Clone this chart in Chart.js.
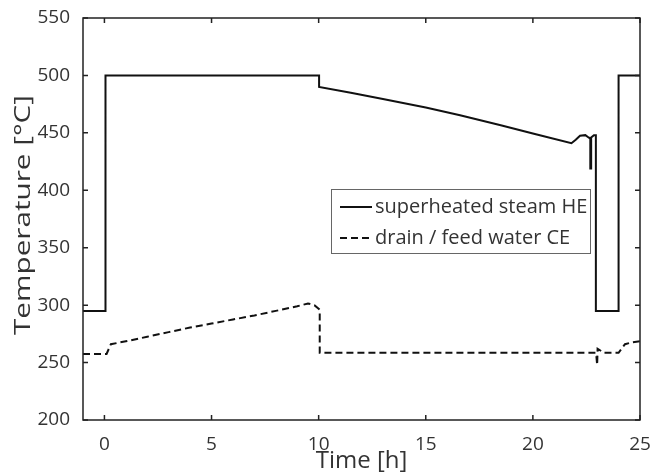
<!DOCTYPE html>
<html>
<head>
<meta charset="utf-8">
<script src="https://cdn.jsdelivr.net/npm/chart.js@4.4.1/dist/chart.umd.min.js"></script>
<style>
  html, body { margin: 0; padding: 0; background: #fff; }
  #wrap { width: 663px; height: 476px; }
</style>
</head>
<body>
<div id="wrap"><canvas id="canvas" width="663" height="476"></canvas></div>
<script>
// superheated steam HE (solid)
var steamTime = [-1, 0.05, 0.05, 10.02, 10.02, 11.5, 13, 15, 16.6, 18.5, 20, 21.8, 22.0, 22.2, 22.45, 22.6, 22.68, 22.68, 22.72, 22.72, 22.85, 22.94, 22.94, 24, 24, 25];
var steamTemp = [295, 295, 500, 500, 490, 485, 479.5, 472, 465.4, 456.7, 449.5, 441, 444, 447.5, 448, 446, 445, 419, 419, 446, 448, 448, 295, 295, 500, 500];

// drain / feed water CE (dashed)
var drainTime = [-1, 0.1, 0.3, 1, 2, 3, 4, 5, 6, 7, 8, 9, 9.5, 9.8, 10.05, 10.05, 22.95, 23.0, 23.02, 23.15, 23.3, 24.0, 24.3, 24.6, 25];
var drainTemp = [257.5, 257.5, 266, 268.5, 272.5, 276.5, 280.5, 284, 287.5, 291, 295, 299, 301.5, 300, 296, 258.5, 258.5, 248, 262, 260.5, 258.5, 258.5, 266, 267.5, 268.5];

var xTicks = [0, 5, 10, 15, 20, 25];
var yTicks = [200, 250, 300, 350, 400, 450, 500, 550];

var legendLabels = ["superheated steam HE", "drain / feed water CE"];
var yTitle = "Temperature [°C]";

function pairs(xs, ys) {
  var out = [];
  for (var i = 0; i < xs.length; i++) out.push({x: xs[i], y: ys[i]});
  return out;
}

var FONT = "'Open Sans', 'Noto Sans', sans-serif";
var TEXT = "#333";

// box round the plot, inward ticks, y title and the legend inside the plot
var boxPlugin = {
  id: 'box',
  afterDraw: function(chart) {
    var ctx = chart.ctx, a = chart.chartArea;
    var xs = chart.scales.x, ys = chart.scales.y;
    ctx.save();
    ctx.strokeStyle = "#222";
    ctx.lineWidth = 1.5;
    ctx.strokeRect(a.left, a.top, a.right - a.left, a.bottom - a.top);
    var tl = 5;
    ctx.beginPath();
    xTicks.forEach(function(v) {
      var px = xs.getPixelForValue(v);
      ctx.moveTo(px, a.bottom); ctx.lineTo(px, a.bottom - tl);
      ctx.moveTo(px, a.top); ctx.lineTo(px, a.top + tl);
    });
    yTicks.forEach(function(v) {
      var py = ys.getPixelForValue(v);
      ctx.moveTo(a.left, py); ctx.lineTo(a.left + tl, py);
      ctx.moveTo(a.right, py); ctx.lineTo(a.right - tl, py);
    });
    ctx.stroke();

    // y title, stretched a bit along its length like the original
    ctx.save();
    ctx.translate(24, 215);
    ctx.rotate(-Math.PI / 2);
    ctx.font = "22px " + FONT;
    var w = ctx.measureText(yTitle).width;
    ctx.scale(240 / w, 1);
    ctx.fillStyle = TEXT;
    ctx.textAlign = "center";
    ctx.textBaseline = "middle";
    ctx.fillText(yTitle, 0, 0);
    ctx.restore();

    // legend
    var bx = 331, by = 189, bw = 259, bh = 64;
    ctx.fillStyle = "#fff";
    ctx.fillRect(bx, by, bw, bh);
    ctx.strokeStyle = "#666";
    ctx.lineWidth = 1;
    ctx.strokeRect(bx + 0.5, by + 0.5, bw, bh);
    var rows = [207, 238];
    ctx.font = "20px " + FONT;
    ctx.textBaseline = "middle";
    ctx.fillStyle = TEXT;
    for (var i = 0; i < 2; i++) {
      ctx.strokeStyle = "#111";
      ctx.lineWidth = 2;
      ctx.setLineDash(i === 0 ? [] : [7, 4]);
      ctx.beginPath();
      ctx.moveTo(340, rows[i]); ctx.lineTo(372, rows[i]);
      ctx.stroke();
      ctx.setLineDash([]);
      ctx.fillText(legendLabels[i], 375, rows[i]);
    }
    ctx.restore();
  }
};

var chart = new Chart(document.getElementById("canvas").getContext("2d"), {
  type: 'line',
  data: {
    datasets: [
      {
        label: legendLabels[0],
        data: pairs(steamTime, steamTemp),
        borderColor: "#111",
        borderWidth: 2,
        pointRadius: 0,
        tension: 0,
        fill: false
      },
      {
        label: legendLabels[1],
        data: pairs(drainTime, drainTemp),
        borderColor: "#111",
        borderWidth: 2,
        borderDash: [7, 4],
        pointRadius: 0,
        tension: 0,
        fill: false
      }
    ]
  },
  options: {
    responsive: false,
    animation: false,
    layout: { padding: { top: 18, right: 23, left: 0, bottom: 0 } },
    plugins: { legend: { display: false }, tooltip: { enabled: false } },
    scales: {
      x: {
        type: 'linear',
        min: -1, max: 25,
        grid: { display: false },
        border: { display: false },
        afterBuildTicks: function(s) { s.ticks = xTicks.map(function(v) { return {value: v}; }); },
        afterFit: function(s) { s.height = 56; },
        ticks: { color: TEXT, padding: 5, font: { family: FONT, size: 19 }, maxRotation: 0 },
        title: { display: true, text: "Time [h]", color: TEXT, padding: { top: 3, bottom: 0 }, font: { family: FONT, size: 24 } }
      },
      y: {
        min: 200, max: 550,
        grid: { display: false },
        border: { display: false },
        afterBuildTicks: function(s) { s.ticks = yTicks.map(function(v) { return {value: v}; }); },
        afterFit: function(s) { s.width = 83; },
        ticks: { color: TEXT, padding: 5, font: { family: FONT, size: 19 } }
      }
    }
  },
  plugins: [boxPlugin]
});
</script>
</body>
</html>
